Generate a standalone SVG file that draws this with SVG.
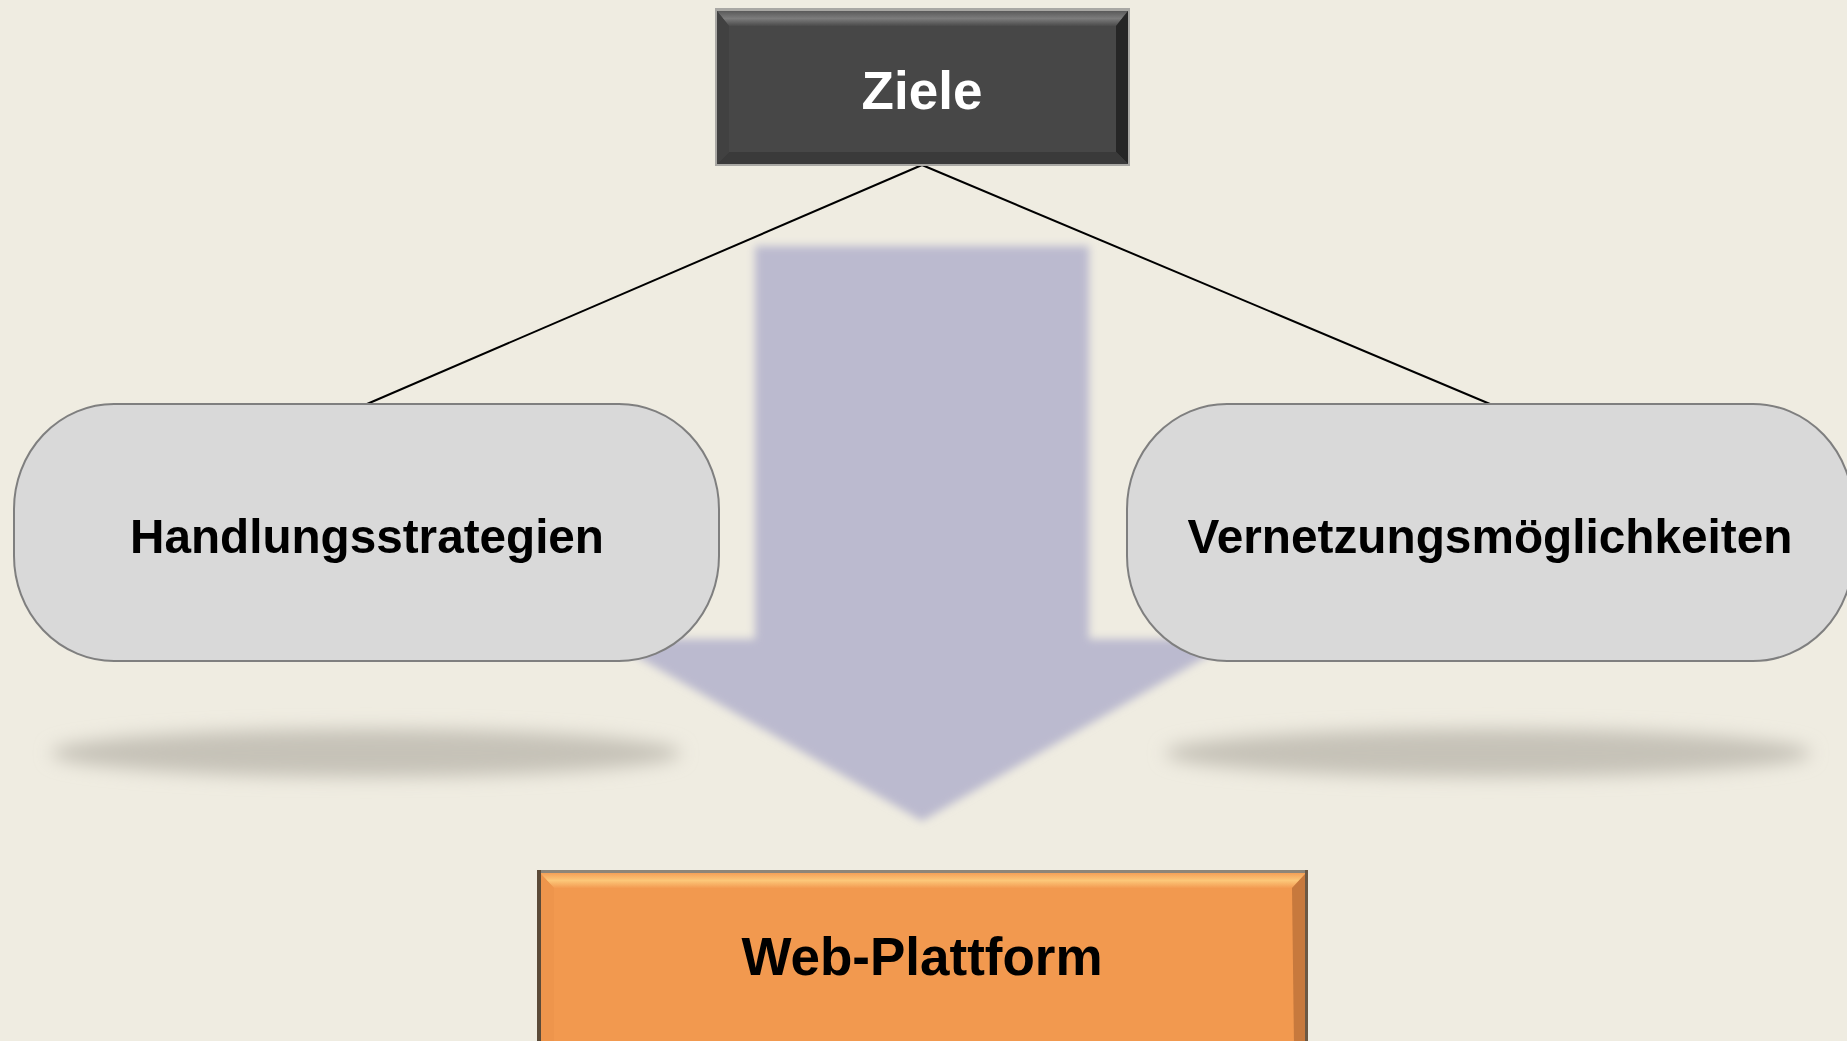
<svg xmlns="http://www.w3.org/2000/svg" width="1847" height="1041" viewBox="0 0 1847 1041">
  <defs>
    <filter id="blurArrow" x="-10%" y="-10%" width="120%" height="120%">
      <feGaussianBlur stdDeviation="4"/>
    </filter>
    <filter id="blurShadow" x="-20%" y="-100%" width="140%" height="300%">
      <feGaussianBlur stdDeviation="9"/>
    </filter>
    <linearGradient id="orangeTop" x1="0" y1="0" x2="0" y2="1">
      <stop offset="0" stop-color="#f4a057"/>
      <stop offset="0.5" stop-color="#fcc779"/>
      <stop offset="1" stop-color="#f39b52"/>
    </linearGradient>
    <linearGradient id="darkTop" x1="0" y1="0" x2="0" y2="1">
      <stop offset="0" stop-color="#5a5a5a"/>
      <stop offset="0.5" stop-color="#7c7c7c"/>
      <stop offset="1" stop-color="#4b4b4b"/>
    </linearGradient>
  </defs>
  <style>
    .bg { fill: #efece1; }
    .pill { fill: #d9d9d9; stroke: #7f7f7f; stroke-width: 2; }
    .label { font-family: "Liberation Sans", Arial, sans-serif; font-weight: bold; text-anchor: middle; }
    .conn { stroke: #000000; stroke-width: 2; fill: none; }
    .shadow { fill: #c6c2b8; filter: url(#blurShadow); }
  </style>

  <rect class="bg" x="0" y="0" width="1847" height="1041"/>

  <!-- big background arrow -->
  <g id="arrow">
    <polygon points="755,246 1089,246 1089,639 1237,639 922,821 607,639 755,639" fill="#bbbacf" filter="url(#blurArrow)"/>
  </g>

  <!-- floor shadows -->
  <g id="shadows">
    <ellipse class="shadow" cx="366" cy="753" rx="315" ry="24"/>
    <ellipse class="shadow" cx="1488" cy="753" rx="323" ry="24"/>
  </g>

  <g id="connectors">
    <line class="conn" x1="922" y1="165" x2="367" y2="404"/>
    <line class="conn" x1="922" y1="165" x2="1490" y2="404"/>
  </g>

  <g id="node-ziele">
    <rect x="715" y="8" width="415" height="158" fill="#a9a8a4"/>
    <rect x="717" y="11" width="411" height="153" fill="#474747"/>
    <polygon points="717,11 1128,11 1116,26 729,26" fill="url(#darkTop)"/>
    <polygon points="1128,11 1128,164 1116,152 1116,26" fill="#262626"/>
    <polygon points="717,164 1128,164 1116,152 729,152" fill="#3a3a3a"/>
    <polygon points="717,11 729,26 729,152 717,164" fill="#414141"/>
    <text class="label" x="922" y="109" font-size="53" fill="#ffffff">Ziele</text>
  </g>

  <g id="node-handlung">
    <rect class="pill" x="14" y="404" width="705" height="257" rx="100" ry="105"/>
    <text class="label" x="367" y="553" font-size="49" fill="#000000" textLength="474" lengthAdjust="spacingAndGlyphs">Handlungsstrategien</text>
  </g>

  <g id="node-vernetzung">
    <rect class="pill" x="1127" y="404" width="726" height="257" rx="100" ry="105"/>
    <text class="label" x="1490" y="553" font-size="49" fill="#000000" textLength="605" lengthAdjust="spacingAndGlyphs">Vernetzungsmöglichkeiten</text>
  </g>

  <g id="node-web">
    <rect x="537" y="870" width="771" height="175" fill="#8d8578"/>
    <rect x="540" y="873" width="766" height="172" fill="#f2994f"/>
    <polygon points="540,873 1306,873 1292,888 554,888" fill="url(#orangeTop)"/>
    <polygon points="1306,873 1306,1045 1294,1045 1292,888" fill="#c7793d"/>
    <polygon points="540,873 554,888 554,1045 540,1045" fill="#ee954c"/>
    <rect x="537" y="870" width="4" height="175" fill="#5b4a38"/>
    <rect x="1305" y="870" width="3" height="175" fill="#6b5844"/>
    <text class="label" x="922" y="975" font-size="53" fill="#000000">Web-Plattform</text>
  </g>
</svg>
